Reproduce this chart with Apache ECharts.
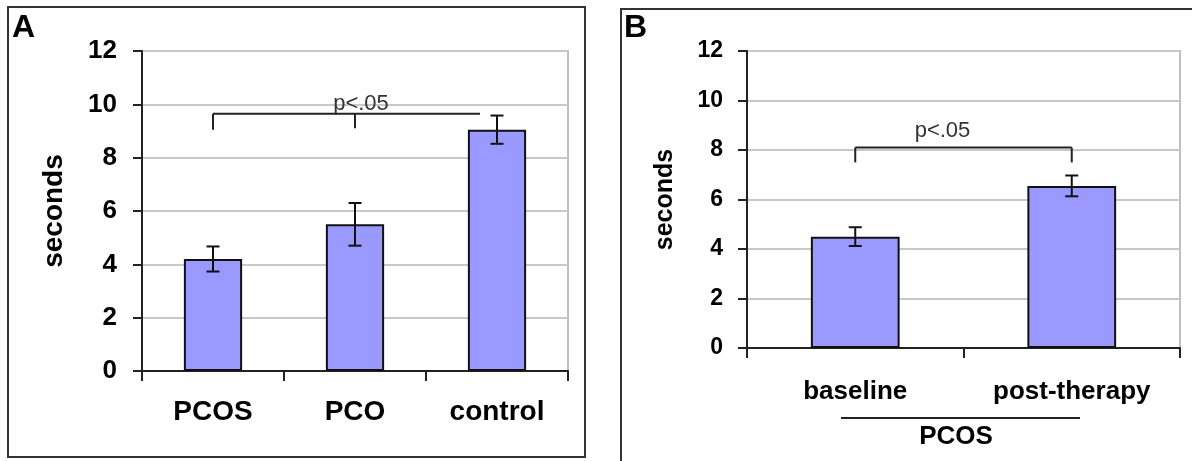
<!DOCTYPE html>
<html>
<head>
<meta charset="utf-8">
<script src="https://cdn.jsdelivr.net/npm/echarts@6/dist/echarts.min.js"></script>
<style>
html,body{margin:0;padding:0;background:#fff;}
#c{width:1192px;height:461px;}
</style>
</head>
<body>
<div id="c"></div>
<script>
// ---- data ----
const catsA = ['PCOS', 'PCO', 'control'];
const meanA = [4.2, 5.5, 9.05];
const errA = [0.47, 0.8, 0.53];
const catsB = ['baseline', 'post-therapy'];
const meanB = [4.5, 6.55];
const errB = [0.38, 0.42];
const yMin = 0, yMax = 12, yStep = 2;
const yName = 'seconds';
const pText = 'p<.05';
const groupLabelB = 'PCOS';
// bracket: from/to category index, level value, drop ends [category, value]
const bracketA = { from: 0, to: 2, level: 9.65, drops: [[0, 9.05], [1, 9.1]] };
const bracketB = { from: 0, to: 1, level: 8.1, drops: [[0, 7.5], [1, 7.5]] };

const FONT = '"Liberation Sans", Arial, sans-serif';
const chart = echarts.init(document.getElementById('c'));

function errSeries(means, errs, idx) {
  return {
    type: 'custom', xAxisIndex: idx, yAxisIndex: idx, z: 5,
    data: means.map((m, i) => [i, m, errs[i]]),
    renderItem: function (params, api) {
      const x = api.value(0), m = api.value(1), e = api.value(2);
      const top = api.coord([x, m + e]);
      const bot = api.coord([x, m - e]);
      const cap = 6.5;
      const st = { stroke: '#111', lineWidth: 2 };
      return { type: 'group', children: [
        { type: 'line', shape: { x1: top[0], y1: top[1], x2: bot[0], y2: bot[1] }, style: st },
        { type: 'line', shape: { x1: top[0] - cap, y1: top[1], x2: top[0] + cap, y2: top[1] }, style: st },
        { type: 'line', shape: { x1: bot[0] - cap, y1: bot[1], x2: bot[0] + cap, y2: bot[1] }, style: st }
      ]};
    }
  };
}

function bracketSeries(br, idx, rightInset, textDx, textDy) {
  return {
    type: 'custom', xAxisIndex: idx, yAxisIndex: idx, z: 6,
    data: [[br.from, br.level]],
    renderItem: function (params, api) {
      const st = { stroke: '#222', lineWidth: 2 };
      const p1 = api.coord([br.from, br.level]);
      const p2 = api.coord([br.to, br.level]);
      const x2 = p2[0] - rightInset;
      const children = [
        { type: 'line', shape: { x1: p1[0], y1: p1[1], x2: x2, y2: p1[1] }, style: st }
      ];
      br.drops.forEach(function (d) {
        const a = api.coord([d[0], br.level]);
        const b = api.coord([d[0], d[1]]);
        children.push({ type: 'line', shape: { x1: a[0], y1: a[1], x2: b[0], y2: b[1] }, style: st });
      });
      const midX = (p1[0] + p2[0]) / 2 + textDx;
      children.push({ type: 'text', style: { text: pText, x: midX, y: p1[1] + textDy,
        align: 'center', verticalAlign: 'middle', fill: '#333',
        font: '22px ' + FONT } });
      return { type: 'group', children: children };
    }
  };
}

function yAxisCfg(idx, fs, margin, nameGap, nameFs) {
  return {
    type: 'value', gridIndex: idx, min: yMin, max: yMax, interval: yStep,
    name: yName, nameLocation: 'middle', nameGap: nameGap, nameRotate: 90,
    nameTextStyle: { fontFamily: FONT, fontWeight: 'bold', fontSize: nameFs, color: '#000' },
    axisLine: { show: true, lineStyle: { color: '#222', width: 2 } },
    axisTick: { show: true, length: 9, lineStyle: { color: '#222', width: 2 } },
    axisLabel: { fontFamily: FONT, fontWeight: 'bold', fontSize: fs, color: '#000', margin: margin },
    splitLine: { show: true, lineStyle: { color: '#c8c8c8', width: 2 } }
  };
}

function xAxisCfg(idx, cats, fs, margin) {
  return {
    type: 'category', gridIndex: idx, data: cats, boundaryGap: true,
    axisLine: { show: true, lineStyle: { color: '#222', width: 2 } },
    axisTick: { show: true, length: 10, lineStyle: { color: '#222', width: 2 } },
    axisLabel: { fontFamily: FONT, fontWeight: 'bold', fontSize: fs, color: '#000', margin: margin },
    splitLine: { show: false }
  };
}

const option = {
  animation: false,
  backgroundColor: '#fff',
  grid: [
    { left: 142, top: 51, width: 426, height: 320, show: true, borderColor: '#c0c0c0', borderWidth: 2, backgroundColor: 'transparent' },
    { left: 747, top: 51, width: 433, height: 297, show: true, borderColor: '#c0c0c0', borderWidth: 2, backgroundColor: 'transparent' }
  ],
  xAxis: [ xAxisCfg(0, catsA, 28, 27), xAxisCfg(1, catsB, 26, 31) ],
  yAxis: [ yAxisCfg(0, 26, 25, 74, 28), yAxisCfg(1, 23, 24, 69, 25) ],
  series: [
    { type: 'bar', xAxisIndex: 0, yAxisIndex: 0, data: meanA, barWidth: '41%',
      itemStyle: { color: '#9999ff', borderColor: '#111', borderWidth: 2 } },
    { type: 'bar', xAxisIndex: 1, yAxisIndex: 1, data: meanB, barWidth: '41%',
      itemStyle: { color: '#9999ff', borderColor: '#111', borderWidth: 2 } },
    errSeries(meanA, errA, 0),
    errSeries(meanB, errB, 1),
    bracketSeries(bracketA, 0, 17, 6, -10),
    bracketSeries(bracketB, 1, 0, -21, -17)
  ],
  graphic: [
    { type: 'rect', shape: { x: 8, y: 7, width: 577, height: 450 }, style: { fill: 'none', stroke: '#333', lineWidth: 2 } },
    { type: 'rect', shape: { x: 621, y: 9, width: 600, height: 480 }, style: { fill: 'none', stroke: '#333', lineWidth: 2 } },
    { type: 'text', left: 12, top: 12, style: { text: 'A', font: 'bold 32px ' + FONT, fill: '#000' } },
    { type: 'text', left: 624, top: 12, style: { text: 'B', font: 'bold 32px ' + FONT, fill: '#000' } },
    { type: 'line', shape: { x1: 841, y1: 418, x2: 1080, y2: 418 }, style: { stroke: '#222', lineWidth: 2 } },
    { type: 'text', x: 956, y: 437, style: { text: groupLabelB, font: 'bold 26px ' + FONT, fill: '#000', align: 'center', verticalAlign: 'middle' } }
  ]
};
chart.setOption(option);
</script>
</body>
</html>
